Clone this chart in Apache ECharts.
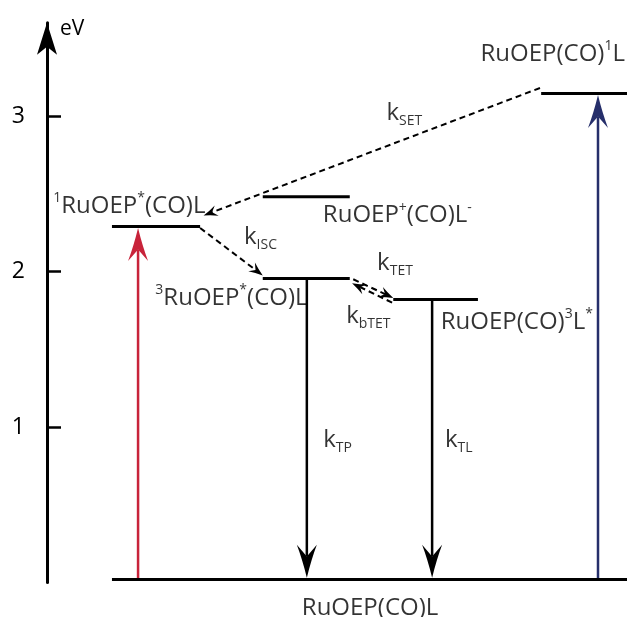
<!DOCTYPE html>
<html>
<head>
<meta charset="utf-8">
<script src="https://cdn.jsdelivr.net/npm/echarts@6/dist/echarts.min.js"></script>
<style>
  html, body { margin: 0; padding: 0; background: #fff; }
  #chart { width: 627px; height: 617px; }
</style>
</head>
<body>
<div id="chart"></div>
<script>
// energy levels (eV) and their horizontal extent on a hidden 0-100 axis
var levelNames = ['ground', 'S1', 'CT', 'T1', 'L3', 'L1'];
var levelEnergy = [0.02, 2.29, 2.48, 1.955, 1.82, 3.145];
var levelFrom = [11.2, 11.2, 37.2, 37.2, 59.7, 85.2];
var levelTo = [100, 26.4, 52.2, 52.2, 74.3, 100];

// level labels
var levelLabels = [
  'RuOEP(CO)L',
  '{sup|1}RuOEP{sup|*}(CO)L',
  'RuOEP{sup|+}(CO)L{sup|-}',
  '{sup|3}RuOEP{sup|*}(CO)L',
  'RuOEP(CO){sup|3}L{sup|*}',
  'RuOEP(CO){sup|1}L'
];
var levelLabelX = [55.7, 14.2, 60.4, 31.8, 81.0, 87.2];
var levelLabelE = [-0.165, 2.42, 2.36, 1.83, 1.675, 3.40];

// solid transitions: x, from E, to E
var solidX = [15.7, 95, 44.8, 66.4];
var solidFrom = [0.02, 0.02, 1.955, 1.82];
var solidTo = [2.28, 3.135, 0.03, 0.03];
var solidColor = ['#c8233a', '#262f6b', '#000', '#000'];

// dashed transfers: start and end points
var dashStart = [[85.0, 3.18], [26.4, 2.28], [52.8, 1.95], [59.5, 1.80]];
var dashEnd = [[27.0, 2.36], [37.2, 1.975], [59.7, 1.83], [52.6, 1.925]];

// rate constant labels
var rateLabels = ['SET', 'ISC', 'TET', 'bTET', 'TP', 'TL'];
var rateX = [61.6, 36.8, 60.0, 55.4, 50.1, 71.0];
var rateE = [3.02, 2.22, 2.055, 1.714, 0.916, 0.916];

var yTicks = [1, 2, 3];

var chart = echarts.init(document.getElementById('chart'));

var font = '"Open Sans", sans-serif';

var richStyle = {
  sup: { fontSize: 14, fontFamily: font, color: '#000', verticalAlign: 'top', lineHeight: 14 },
  sub: { fontSize: 14, fontFamily: font, color: '#000', verticalAlign: 'bottom', lineHeight: 14 },
  k: { fontSize: 24, fontFamily: font, color: '#000', lineHeight: 30 }
};

// arrow drawn in pixel space: shaft + notched head with slightly concave sides
function arrowItem(p0, p1, color, width, dash, headL, headW) {
  var dx = p1[0] - p0[0], dy = p1[1] - p0[1];
  var len = Math.sqrt(dx * dx + dy * dy);
  var ux = dx / len, uy = dy / len;
  var nx = -uy, ny = ux;
  var notch = headL * 0.65;
  function pt(a, b) { return [p1[0] - ux * a + nx * b, p1[1] - uy * a + ny * b]; }
  var br = pt(headL, headW / 2), bl = pt(headL, -headW / 2);
  var nc = pt(notch, 0);
  var cr = pt(headL * 0.55, headW * 0.22), cl = pt(headL * 0.55, -headW * 0.22);
  var d = 'M' + p1[0] + ' ' + p1[1] +
    'Q' + cr[0] + ' ' + cr[1] + ' ' + br[0] + ' ' + br[1] +
    'L' + nc[0] + ' ' + nc[1] +
    'L' + bl[0] + ' ' + bl[1] +
    'Q' + cl[0] + ' ' + cl[1] + ' ' + p1[0] + ' ' + p1[1] + 'Z';
  return {
    type: 'group',
    children: [
      {
        type: 'line',
        shape: { x1: p0[0], y1: p0[1], x2: nc[0], y2: nc[1] },
        style: { stroke: color, lineWidth: width, lineDash: dash }
      },
      {
        type: 'path',
        shape: { pathData: d },
        style: { fill: color, stroke: null }
      }
    ]
  };
}

var series = [];

// levels
levelNames.forEach(function (n, i) {
  series.push({
    type: 'line',
    name: n,
    data: [[levelFrom[i], levelEnergy[i]], [levelTo[i], levelEnergy[i]]],
    symbol: 'none',
    lineStyle: { color: '#000', width: 3 },
    silent: true
  });
});

// solid arrows
series.push({
  type: 'custom',
  silent: true,
  data: solidX.map(function (x, i) { return [x, solidFrom[i], x, solidTo[i]]; }),
  renderItem: function (params, api) {
    var i = params.dataIndex;
    var p0 = api.coord([api.value(0), api.value(1)]);
    var p1 = api.coord([api.value(2), api.value(3)]);
    return arrowItem(p0, p1, solidColor[i], 2.5, null, 33, 20);
  }
});

// dashed arrows
series.push({
  type: 'custom',
  silent: true,
  data: dashStart.map(function (s, i) { return [s[0], s[1], dashEnd[i][0], dashEnd[i][1]]; }),
  renderItem: function (params, api) {
    var p0 = api.coord([api.value(0), api.value(1)]);
    var p1 = api.coord([api.value(2), api.value(3)]);
    return arrowItem(p0, p1, '#000', 2, [6, 4], 14, 11);
  }
});

// level labels
series.push({
  type: 'scatter',
  symbolSize: 0,
  clip: false,
  data: levelLabels.map(function (t, i) {
    return { value: [levelLabelX[i], levelLabelE[i]], text: t };
  }),
  label: {
    show: true,
    position: 'inside',
    color: '#000',
    fontFamily: font,
    fontSize: 24,
    lineHeight: 30,
    formatter: function (p) { return p.data.text; },
    rich: richStyle
  },
  silent: true
});

// rate labels
series.push({
  type: 'scatter',
  symbolSize: 0,
  clip: false,
  data: rateLabels.map(function (t, i) {
    return { value: [rateX[i], rateE[i]], text: '{k|k}{sub|' + t + '}' };
  }),
  label: {
    show: true,
    position: 'inside',
    color: '#000',
    formatter: function (p) { return p.data.text; },
    rich: richStyle
  },
  silent: true
});

chart.setOption({
  backgroundColor: '#fff',
  animation: false,
  grid: { left: 47, right: 0, top: 22.7, bottom: 34.5 },
  xAxis: {
    type: 'value',
    min: 0,
    max: 100,
    show: false
  },
  yAxis: {
    type: 'value',
    min: 0,
    max: 3.6,
    name: 'eV',
    nameLocation: 'end',
    nameGap: -6,
    nameTextStyle: {
      fontFamily: font, fontSize: 21, color: '#000',
      align: 'left', verticalAlign: 'middle', padding: [0, 0, 0, 13]
    },
    splitLine: { show: false },
    axisLine: {
      show: true,
      lineStyle: { color: '#000', width: 3 },
      symbol: ['none', 'arrow'],
      symbolSize: [15, 32]
    },
    axisTick: {
      show: true,
      inside: true,
      length: 14,
      customValues: yTicks,
      lineStyle: { color: '#000', width: 2.5 }
    },
    axisLabel: {
      customValues: yTicks,
      fontFamily: font,
      fontSize: 23,
      color: '#000',
      margin: 22
    }
  },
  series: series
});
</script>
</body>
</html>
